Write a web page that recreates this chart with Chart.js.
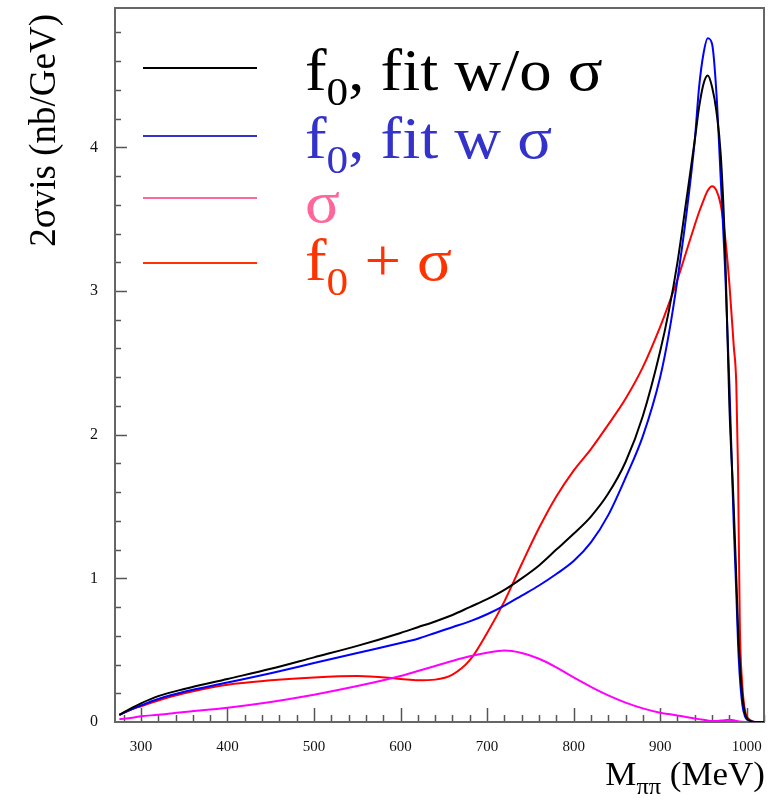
<!DOCTYPE html>
<html>
<head>
    <title>f0 fit</title>
    <script src="https://cdn.jsdelivr.net/npm/chart.js@4.4.0/dist/chart.umd.min.js"></script>
    <style>
        body { margin: 0; background: #fff; }
        canvas { display: block; }
    </style>
</head>
<body>
    <canvas id="chartCanvas" width="774" height="800"></canvas>

    <script>
        // masa pi-pi (MeV)
        const massMeV = [275, 290, 300, 320, 350, 400, 450, 500, 550, 600,
            620, 640, 660, 680, 700, 720, 740, 760, 780, 800,
            820, 840, 860, 880, 900, 910, 920, 930, 940, 945,
            950, 955, 960, 965, 970, 975, 980, 985, 988, 990,
            992, 995, 998, 1000, 1005, 1010, 1020];

        const fitNoSigma = [0.05, 0.10, 0.13, 0.18, 0.23, 0.30, 0.37, 0.45, 0.53, 0.62,
            0.66, 0.70, 0.745, 0.80, 0.855, 0.92, 1.00, 1.09, 1.20, 1.31,
            1.43, 1.59, 1.81, 2.13, 2.58, 2.86, 3.20, 3.62, 4.05, 4.28,
            4.44, 4.50, 4.42, 4.25, 3.95, 3.30, 2.20, 1.50, 1.00, 0.65,
            0.42, 0.18, 0.06, 0.03, 0.005, 0, 0];

        const fitWithSigma = [0.05, 0.09, 0.115, 0.16, 0.21, 0.275, 0.34, 0.41, 0.48, 0.55,
            0.58, 0.62, 0.66, 0.70, 0.75, 0.81, 0.88, 0.95, 1.03, 1.12,
            1.25, 1.44, 1.70, 1.99, 2.40, 2.70, 3.08, 3.52, 4.05, 4.42,
            4.65, 4.76, 4.72, 4.38, 3.78, 3.16, 2.35, 1.38, 0.90, 0.55,
            0.32, 0.12, 0.04, 0.02, 0.005, 0, 0];

        const sigmaOnly = [0.02, 0.03, 0.04, 0.05, 0.07, 0.10, 0.14, 0.19, 0.25, 0.32,
            0.355, 0.39, 0.425, 0.457, 0.482, 0.497, 0.48, 0.44, 0.38, 0.31,
            0.245, 0.185, 0.135, 0.095, 0.065, 0.055, 0.045, 0.035, 0.025, 0.02,
            0.015, 0.01, 0.007, 0.007, 0.01, 0.013, 0.015, 0.012, 0.008, 0.005,
            0.003, 0.001, 0, 0, 0, 0, 0];

        const f0PlusSigma = [0.05, 0.09, 0.11, 0.15, 0.20, 0.26, 0.29, 0.31, 0.32, 0.30,
            0.29, 0.295, 0.33, 0.43, 0.62, 0.84, 1.10, 1.35, 1.57, 1.75,
            1.90, 2.07, 2.25, 2.47, 2.75, 2.91, 3.08, 3.27, 3.46, 3.55,
            3.63, 3.70, 3.73, 3.70, 3.60, 3.38, 3.05, 2.62, 2.35, 1.75,
            0.70, 0.25, 0.08, 0.04, 0.01, 0, 0];

        const xTickLabels = [300, 400, 500, 600, 700, 800, 900, 1000];
        const yTickLabels = [0, 1, 2, 3, 4];

        const serif = '"Liberation Serif", "DejaVu Serif", serif';

        function toPoints(values) {
            return values.map((v, i) => ({ x: massMeV[i], y: v }));
        }

        // scrie text cu indici, intins putin pe orizontala ca in original
        function drawParts(ctx, parts, x, base, stretch) {
            ctx.save();
            ctx.translate(x, base);
            ctx.scale(stretch, 1);
            let cx = 0;
            parts.forEach(p => {
                ctx.font = p[1] + 'px ' + serif;
                ctx.fillText(p[0], cx, p[2]);
                cx += ctx.measureText(p[0]).width;
            });
            ctx.restore();
            return cx * stretch;
        }

        function partsWidth(ctx, parts, stretch) {
            let w = 0;
            parts.forEach(p => { ctx.font = p[1] + 'px ' + serif; w += ctx.measureText(p[0]).width; });
            return w * stretch;
        }

        // rama, tick-uri interioare, legenda si titlurile axelor
        const decor = {
            id: 'decor',
            beforeDatasetsDraw(chart) {
                const ctx = chart.ctx;
                const a = chart.chartArea;
                const xs = chart.scales.x;
                const ys = chart.scales.y;
                ctx.save();
                ctx.strokeStyle = '#555';
                ctx.lineWidth = 1.5;
                for (let m = 280; m <= 1020; m += 20) {
                    const px = Math.round(xs.getPixelForValue(m)) + 0.5;
                    const len = m % 100 === 0 ? 14 : 7;
                    ctx.beginPath();
                    ctx.moveTo(px, a.bottom);
                    ctx.lineTo(px, a.bottom - len);
                    ctx.stroke();
                }
                for (let k = 1; k <= 24; k++) {
                    const v = k * 0.2;
                    const py = Math.round(ys.getPixelForValue(v)) + 0.5;
                    const len = k % 5 === 0 ? 12 : 6;
                    ctx.beginPath();
                    ctx.moveTo(a.left, py);
                    ctx.lineTo(a.left + len, py);
                    ctx.stroke();
                }
                ctx.strokeStyle = '#666';
                ctx.lineWidth = 2;
                ctx.strokeRect(a.left, a.top, a.right - a.left, a.bottom - a.top);
                ctx.restore();
            },
            afterDraw(chart) {
                const ctx = chart.ctx;
                ctx.save();
                ctx.textBaseline = 'alphabetic';
                ctx.textAlign = 'left';

                // legenda
                const rows = [
                    { color: '#000000', lineY: 68, base: 90, parts: [['f', 60, 0], ['0', 40, 15], [', fit w/o \u03c3', 60, 0]] },
                    { color: '#3333cc', lineY: 136, base: 158, parts: [['f', 60, 0], ['0', 40, 15], [', fit w \u03c3', 60, 0]] },
                    { color: '#ff6699', lineY: 198, base: 222, parts: [['\u03c3', 60, 0]] },
                    { color: '#ff3300', lineY: 263, base: 280, parts: [['f', 60, 0], ['0', 40, 15], [' + \u03c3', 60, 0]] }
                ];
                rows.forEach(r => {
                    ctx.strokeStyle = r.color;
                    ctx.lineWidth = 2;
                    ctx.beginPath();
                    ctx.moveTo(143, r.lineY);
                    ctx.lineTo(257, r.lineY);
                    ctx.stroke();
                    ctx.fillStyle = r.color;
                    drawParts(ctx, r.parts, 305, r.base, 1.08);
                });

                // titlul axei x
                ctx.fillStyle = '#000';
                const xParts = [['M', 33, 0], ['\u03c0\u03c0', 23, 9], [' (MeV)', 33, 0]];
                const w = partsWidth(ctx, xParts, 1.06);
                drawParts(ctx, xParts, 765 - w, 785, 1.06);

                // titlul axei y
                ctx.translate(45, 14);
                ctx.rotate(-Math.PI / 2);
                ctx.font = '37px ' + serif;
                ctx.textAlign = 'right';
                ctx.textBaseline = 'middle';
                ctx.fillText('2\u03c3vis (nb/GeV)', 0, 0);
                ctx.restore();
            }
        };

        const ctx = document.getElementById('chartCanvas').getContext('2d');
        const chart = new Chart(ctx, {
            type: 'line',
            data: {
                datasets: [
                    { label: 'f0, fit w/o \u03c3', data: toPoints(fitNoSigma), borderColor: '#000000' },
                    { label: 'f0, fit w \u03c3', data: toPoints(fitWithSigma), borderColor: '#0000ff' },
                    { label: '\u03c3', data: toPoints(sigmaOnly), borderColor: '#ff00ff' },
                    { label: 'f0 + \u03c3', data: toPoints(f0PlusSigma), borderColor: '#ff0000' }
                ]
            },
            options: {
                responsive: false,
                animation: false,
                layout: { padding: { top: 8, right: 10, left: 0, bottom: 0 } },
                elements: {
                    point: { radius: 0 },
                    line: { borderWidth: 2, cubicInterpolationMode: 'monotone', fill: false }
                },
                plugins: {
                    legend: { display: false },
                    tooltip: { enabled: false }
                },
                scales: {
                    x: {
                        type: 'linear',
                        min: 270,
                        max: 1020,
                        afterFit(scale) {
                            scale.height = 78;
                            scale.paddingLeft = 0;
                            scale.paddingRight = 0;
                        },
                        afterBuildTicks(scale) { scale.ticks = xTickLabels.map(v => ({ value: v })); },
                        grid: { display: false, drawTicks: false },
                        border: { display: false },
                        ticks: {
                            padding: 16,
                            color: '#111',
                            font: { family: serif, size: 15 },
                            maxRotation: 0,
                            callback: v => String(v)
                        }
                    },
                    y: {
                        min: 0,
                        max: 4.97,
                        afterFit(scale) {
                            scale.width = 115;
                            scale.paddingTop = 0;
                            scale.paddingBottom = 0;
                        },
                        afterBuildTicks(scale) { scale.ticks = yTickLabels.map(v => ({ value: v })); },
                        grid: { display: false, drawTicks: false },
                        border: { display: false },
                        ticks: {
                            padding: 17,
                            color: '#111',
                            font: { family: serif, size: 16 },
                            callback: v => String(v)
                        }
                    }
                }
            },
            plugins: [decor]
        });
    </script>
</body>
</html>
